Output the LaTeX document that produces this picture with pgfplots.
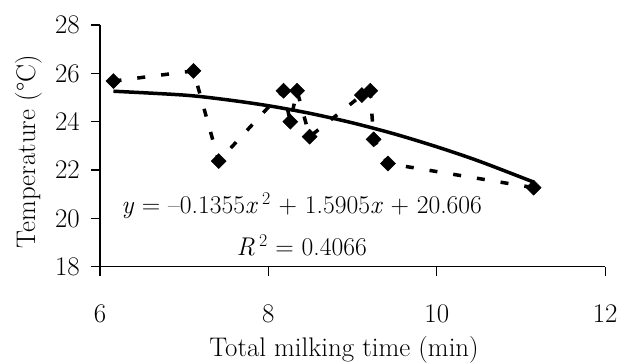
\documentclass[border=0pt]{standalone}
\usepackage{pgfplots}
\pgfplotsset{compat=1.18}
\newcommand{\bigfont}{\fontsize{27}{32}\selectfont}
\newcommand{\eqfont}{\fontsize{25.7}{30}\selectfont}
\newcommand{\tickfont}{\fontsize{27}{32}\selectfont}
\begin{document}
\begin{tikzpicture}
\path[use as bounding box] (-100bp,-96.3bp) rectangle (525bp,266.7bp);
\begin{axis}[
  at={(0,0)}, anchor=south west,
  width=505.2bp, height=241.7bp, scale only axis,
  xmin=6, xmax=12, ymin=18, ymax=28,
  xtick={6,8,10,12}, ytick={18,20,22,24,26,28},
  xticklabels={6,8,10,12}, yticklabels={18,20,22,24,26,28},
  axis x line=bottom, axis y line=left,
  axis line style={line width=1.2bp,-},
  every tick/.style={line width=1.2bp,black},
  tick align=outside, major tick length=9bp,
  tick label style={font=\tickfont, inner sep=0pt},
  xticklabel style={anchor=north},
  yticklabel style={anchor=east},
  xticklabel shift=29.3bp,
  yticklabel shift=11bp,
  clip=false,
  label style={font=\bigfont},
  xlabel={Total milking time (min)},
  xlabel style={at={(axis description cs:0.483,-0.3695)}, anchor=base},
  ylabel={Temperature (\textdegree C)},
  ylabel style={at={(axis description cs:-0.1415,0.476)}, anchor=center},
]
\addplot[line width=3.5bp, smooth, no marks] coordinates {
  (6.16,25.26) (7,25.10) (7.5,24.91) (8,24.66) (8.5,24.34) (9,23.95)
  (9.5,23.49) (10,22.96) (10.5,22.37) (11.15,21.50)
};
\addplot[line width=3.5bp, dash pattern=on 8bp off 16bp,
  mark=square*, mark size=5.3bp,
  mark options={solid, rotate=45, fill=black, line width=0.5bp}] coordinates {
  (6.16,25.68) (7.11,26.10) (7.41,22.37) (8.18,25.28) (8.26,24.00)
  (8.34,25.28) (8.49,23.38) (9.11,25.10) (9.21,25.28) (9.25,23.27)
  (9.42,22.27) (11.15,21.27)
};
\node[anchor=base, font=\eqfont] at (axis cs:8.395,20.22)
  {\textit{y} = –0.1355\textit{x}\,\textsuperscript{2} + 1.5905\textit{x} + 20.606};
\node[anchor=base, font=\eqfont] at (axis cs:8.395,18.48)
  {\textit{R}\,\textsuperscript{2} = 0.4066};
\end{axis}
\end{tikzpicture}
\end{document}
